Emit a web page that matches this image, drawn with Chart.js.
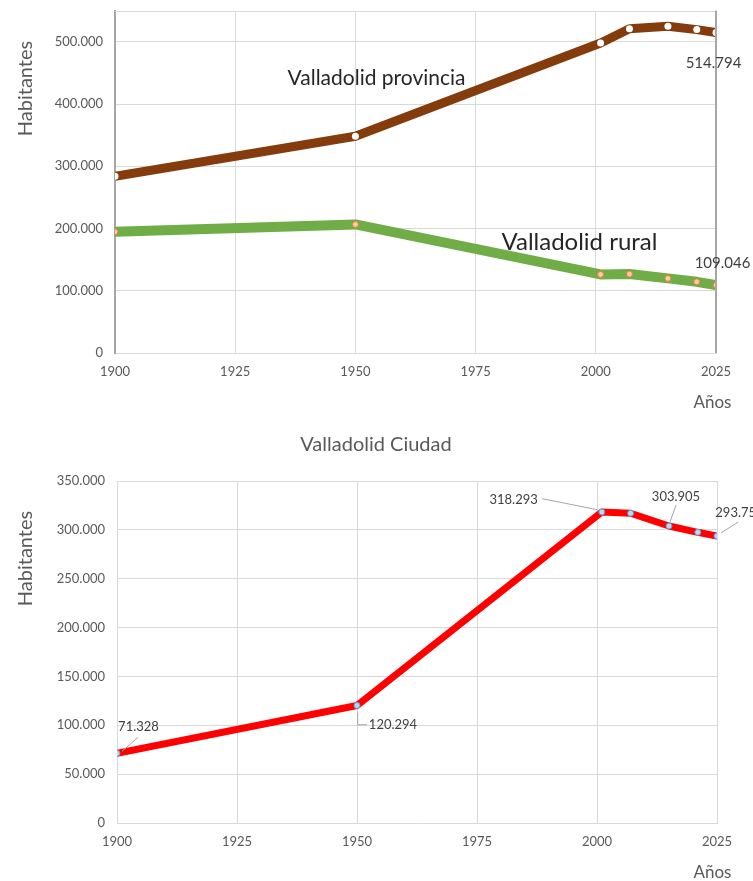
<!DOCTYPE html>
<html><head><meta charset="utf-8">
<script src="https://cdn.jsdelivr.net/npm/chart.js@4.4.1/dist/chart.umd.min.js"></script>
<style>
html,body{margin:0;padding:0;background:#fff;overflow:hidden;}
#w1{position:absolute;left:0;top:0;width:753px;height:420px;}
#w2{position:absolute;left:0;top:420px;width:753px;height:461px;}
</style></head><body>
<div id="w1"><canvas id="c1"></canvas></div>
<div id="w2"><canvas id="c2"></canvas></div>
<script>
// ---- data ----
const years = [1900, 1950, 2001, 2007, 2015, 2021, 2025];
const provincia = [284000, 348300, 498094, 521000, 525000, 519600, 514794];
const rural = [194700, 206600, 126300, 126800, 119900, 114400, 109046];
const ciudad = [71328, 120294, 318293, 317000, 303905, 297500, 293759];
const xTicks = [1900, 1925, 1950, 1975, 2000, 2025];
const yTicksTop = [0, 100000, 200000, 300000, 400000, 500000];
const yTicksBottom = [0, 50000, 100000, 150000, 200000, 250000, 300000, 350000];
const labelProvincia = 'Valladolid provincia';
const labelRural = 'Valladolid rural';
const titleCiudad = 'Valladolid Ciudad';
const yTitle = 'Habitantes';
const xTitle = 'Años';

const fmt = v => String(Math.round(v)).replace(/\B(?=(\d{3})+(?!\d))/g, '.');
const pts = arr => years.map((x, i) => ({x, y: arr[i]}));
const FONT = 'Lato, "Open Sans", sans-serif';

const annot = {
  id: 'annot',
  afterDatasetsDraw(chart, args, opts) {
    const ctx = chart.ctx, a = chart.chartArea, xs = chart.scales.x, ys = chart.scales.y;
    ctx.save();
    if (opts.frame) {
      ctx.lineWidth = 1; ctx.strokeStyle = '#D9D9D9';
      ctx.beginPath(); ctx.moveTo(a.left, Math.round(a.top) + 0.5); ctx.lineTo(a.right, Math.round(a.top) + 0.5); ctx.stroke();
      ctx.lineWidth = 2; ctx.strokeStyle = '#A6A6A6';
      ctx.beginPath(); ctx.moveTo(Math.round(a.right), a.top); ctx.lineTo(Math.round(a.right), a.bottom); ctx.stroke();
    }
    for (const it of opts.items) {
      let px, py;
      if (it.point) {
        const el = chart.getDatasetMeta(it.point[0]).data[it.point[1]];
        px = el.x; py = el.y;
      } else if (it.data) {
        px = xs.getPixelForValue(it.data[0]); py = ys.getPixelForValue(it.data[1]);
      } else { px = 0; py = 0; }
      const cx = it.canvas ? it.canvas[0] : px + (it.dx || 0);
      const cy = it.canvas ? it.canvas[1] : py + (it.dy || 0);
      if (it.lines) {
        ctx.strokeStyle = '#A6A6A6'; ctx.lineWidth = 1;
        ctx.beginPath();
        it.lines.forEach((p, k) => { if (k === 0) ctx.moveTo(px + p[0], py + p[1]); else ctx.lineTo(px + p[0], py + p[1]); });
        ctx.stroke();
      }
      ctx.save();
      ctx.translate(cx, cy);
      if (it.rotate) ctx.rotate(it.rotate);
      ctx.font = it.size + 'px ' + FONT;
      ctx.fillStyle = it.color;
      ctx.textAlign = it.align || 'center';
      ctx.textBaseline = 'middle';
      ctx.fillText(it.text, 0, 0);
      ctx.restore();
    }
    ctx.restore();
  }
};

function axes(yTicks, yMax, yPad, yBorder, xPad) {
  return {
    x: {
      type: 'linear', min: 1900, max: 2025,
      afterBuildTicks: s => { s.ticks = xTicks.map(v => ({value: v})); },
      afterFit: s => { s.height = 40; s.paddingLeft = 0; s.paddingRight = 0; },
      ticks: {padding: xPad, color: '#595959', font: {family: FONT, size: 13}, callback: v => String(v), maxRotation: 0, autoSkip: false},
      grid: {color: '#D9D9D9', lineWidth: 1, drawTicks: false},
      border: {color: '#D9D9D9', width: 1}
    },
    y: {
      min: 0, max: yMax,
      afterBuildTicks: s => { s.ticks = yTicks.map(v => ({value: v})); },
      afterFit: s => { s.width = yPad; s.paddingTop = 0; s.paddingBottom = 0; },
      ticks: {padding: 12, color: '#595959', font: {family: FONT, size: 13}, callback: v => fmt(v), autoSkip: false},
      grid: {color: '#D9D9D9', lineWidth: 1, drawTicks: false},
      border: yBorder
    }
  };
}

Chart.defaults.font.family = FONT;

new Chart(document.getElementById('c1'), {
  type: 'line',
  data: {
    datasets: [
      {label: labelProvincia, data: pts(provincia), borderColor: '#843C0C', borderWidth: 9, tension: 0,
       borderJoinStyle: 'round', pointRadius: 3.5, pointBackgroundColor: '#FFFFFF', pointBorderWidth: 0, pointBorderColor: '#FFFFFF'},
      {label: labelRural, data: pts(rural), borderColor: '#70AD47', borderWidth: 10, tension: 0,
       borderJoinStyle: 'round', pointRadius: 3, pointBackgroundColor: '#F8CBAD', pointBorderWidth: 1, pointBorderColor: '#ED7D31'}
    ]
  },
  options: {
    responsive: true, maintainAspectRatio: false, animation: false, devicePixelRatio: 1,
    layout: {padding: {left: 0, top: 10.7, right: 37, bottom: 420 - 353 - 40}},
    scales: axes(yTicksTop, 550000, 115, {color: '#A6A6A6', width: 2}, 11),
    plugins: {
      legend: {display: false}, tooltip: {enabled: false}, title: {display: false},
      annot: {
        frame: true,
        items: [
          {text: labelProvincia, data: [1954.4, 441000], size: 21, color: '#262626'},
          {text: labelRural, data: [1996.6, 178200], size: 24, color: '#262626'},
          {text: fmt(provincia[6]), point: [0, 6], dx: -2.5, dy: 31, size: 15, color: '#404040'},
          {text: fmt(rural[6]), point: [1, 6], dx: 6.5, dy: -22, size: 15, color: '#404040'},
          {text: xTitle, canvas: [712.5, 403], size: 17, color: '#595959'},
          {text: yTitle, canvas: [25.5, 88.5], rotate: -Math.PI / 2, size: 20, color: '#595959'}
        ]
      }
    }
  },
  plugins: [annot]
});

new Chart(document.getElementById('c2'), {
  type: 'line',
  data: {
    datasets: [
      {label: titleCiudad, data: pts(ciudad), borderColor: '#FF0000', borderWidth: 7, tension: 0,
       borderJoinStyle: 'round', pointRadius: 3, pointBackgroundColor: '#BDD7EE', pointBorderWidth: 1, pointBorderColor: '#5B9BD5'}
    ]
  },
  options: {
    responsive: true, maintainAspectRatio: false, animation: false, devicePixelRatio: 1,
    layout: {padding: {left: 0, top: 61, right: 36, bottom: 461 - 403 - 40}},
    scales: axes(yTicksBottom, 350000, 117, {color: '#D9D9D9', width: 1}, 11),
    plugins: {
      legend: {display: false}, tooltip: {enabled: false}, title: {display: false},
      annot: {
        frame: false,
        items: [
          {text: titleCiudad, canvas: [376, 25], size: 20, color: '#595959'},
          {text: yTitle, canvas: [25.5, 138.5], rotate: -Math.PI / 2, size: 20, color: '#595959'},
          {text: xTitle, canvas: [712.5, 453], size: 17, color: '#595959'},
          {text: fmt(ciudad[0]), point: [0, 0], dx: 21.5, dy: -26, size: 13, color: '#404040', lines: [[5, -2], [21, -16]]},
          {text: fmt(ciudad[1]), point: [0, 1], dx: 36, dy: 19.3, size: 13, color: '#404040', lines: [[0.7, 7], [0.7, 19.3], [10, 19.3]]},
          {text: fmt(ciudad[2]), point: [0, 2], dx: -88.2, dy: -12.3, size: 13, color: '#404040', lines: [[-59.7, -13.3], [-4.7, -2.3]]},
          {text: fmt(ciudad[4]), point: [0, 4], dx: 7, dy: -29, size: 13, color: '#404040', lines: [[7, -21], [1, -4]]},
          {text: fmt(ciudad[6]), point: [0, 6], dx: -1.7, dy: -23, align: 'left', size: 13, color: '#404040', lines: [[21.3, -14], [4, -3]]}
        ]
      }
    }
  },
  plugins: [annot]
});
</script>
</body></html>
